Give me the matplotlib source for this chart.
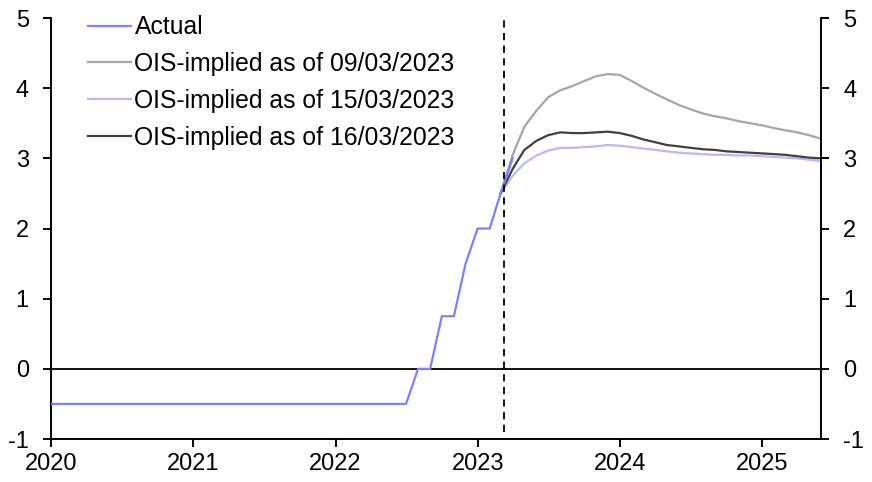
import numpy as np
import pandas as pd
import matplotlib
matplotlib.use('Agg')
import matplotlib.pyplot as plt

plt.rcParams['font.family'] = ['Liberation Sans', 'DejaVu Sans']
plt.rcParams['axes.unicode_minus'] = False

# actual ECB deposit rate, monthly from Jan 2020 to Apr 2023
actual_dates = pd.date_range('2020-01-01', '2023-04-01', freq='MS')
actual = [-0.5] * 31 + [0.0, 0.0, 0.75, 0.75, 1.5, 2.0, 2.0, 2.5, 3.0]

# OIS-implied paths, monthly from Mar 2023 to Jun 2025
ois_dates = pd.date_range('2023-03-01', '2025-06-01', freq='MS')
ois_0903 = [2.5, 3.05, 3.45, 3.68, 3.87, 3.97, 4.03, 4.10, 4.17, 4.20, 4.19, 4.10,
            4.01, 3.92, 3.84, 3.76, 3.70, 3.64, 3.60, 3.57, 3.53, 3.50, 3.47, 3.43,
            3.40, 3.37, 3.33, 3.28]
ois_1503 = [2.5, 2.75, 2.93, 3.04, 3.11, 3.15, 3.15, 3.16, 3.17, 3.19, 3.18, 3.16,
            3.14, 3.12, 3.10, 3.08, 3.07, 3.06, 3.05, 3.05, 3.04, 3.04, 3.03, 3.02,
            3.01, 3.00, 2.98, 2.96]
ois_1603 = [2.5, 2.85, 3.12, 3.25, 3.33, 3.37, 3.36, 3.36, 3.37, 3.38, 3.36, 3.32,
            3.27, 3.23, 3.19, 3.17, 3.15, 3.13, 3.12, 3.10, 3.09, 3.08, 3.07, 3.06,
            3.05, 3.03, 3.01, 3.00]

marker_date = pd.Timestamp('2023-03-10')
year_ticks = pd.to_datetime(['2020-01-01', '2021-01-01', '2022-01-01',
                             '2023-01-01', '2024-01-01', '2025-01-01'])
year_labels = ['2020', '2021', '2022', '2023', '2024', '2025']

fig = plt.figure(figsize=(8.72, 4.82), dpi=100)
ax = fig.add_axes([51/872, 1 - 439/482, 770/872, 421/482])

ax.axhline(0, color='black', lw=1.3, zorder=1)
ax.plot(actual_dates, actual, color='#7f7fff', lw=1.6, label='Actual', zorder=3)
ax.plot(ois_dates, ois_0903, color='#a6a6a6', lw=1.6, label='OIS-implied as of 09/03/2023', zorder=2)
ax.plot(ois_dates, ois_1503, color='#b8b8ff', lw=1.6, label='OIS-implied as of 15/03/2023', zorder=2)
ax.plot(ois_dates, ois_1603, color='#404040', lw=1.6, label='OIS-implied as of 16/03/2023', zorder=2)
ax.plot([marker_date, marker_date], [-0.9, 5], color='black', lw=1.3, ls=(0, (4, 3)), zorder=4)

ax.set_xlim(pd.Timestamp('2020-01-01'), pd.Timestamp('2025-06-01'))
ax.set_ylim(-1, 5)
ax.set_xticks(year_ticks)
ax.set_xticklabels(year_labels)
ax.set_yticks(range(-1, 6))

ax.spines['top'].set_visible(False)
for s in ['left', 'right', 'bottom']:
    ax.spines[s].set_linewidth(1.4)
ax.tick_params(axis='both', direction='out', length=6, width=1.4, labelsize=17, pad=4)
ax.tick_params(axis='y', left=True, right=True, labelleft=True, labelright=True, pad=10)

ax.legend(loc='upper left', bbox_to_anchor=(0.0355, 1.03), frameon=False, fontsize=17.8,
          handlelength=1.75, handletextpad=0.12, labelspacing=0.52, borderaxespad=0)

fig.savefig('out.png', dpi=100)
